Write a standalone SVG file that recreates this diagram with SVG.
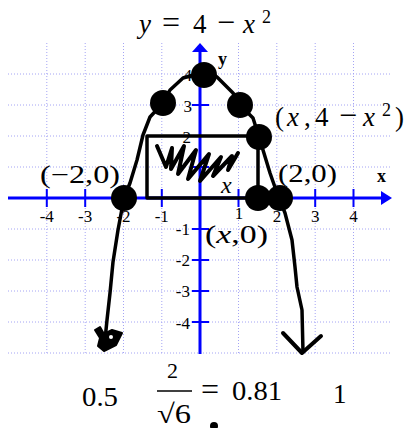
<svg xmlns="http://www.w3.org/2000/svg" width="407" height="428" viewBox="0 0 407 428">
<style>
.grid{stroke:#a4a4f4;stroke-width:1;stroke-dasharray:1 2;fill:none}
.axis{stroke:#0000ff;stroke-width:3;fill:none}
.tick{stroke:#0000ff;stroke-width:2}
.tl{font-family:"Liberation Serif",serif;font-size:17px;fill:#000}
.ink{stroke:#000;fill:none;stroke-linecap:round;stroke-linejoin:round}
.t{font-family:"Liberation Serif",serif;fill:#000}
.i{font-style:italic}
</style>
<rect width="407" height="428" fill="#fff"/>
<g id="grid">
<path class="grid" d="M46.8,43V354M85.2,43V354M123.5,43V354M161.8,43V354M238.5,43V354M276.8,43V354M315.2,43V354M353.5,43V354"/>
<path class="grid" d="M8,74H390M8,105H390M8,136H390M8,167H390M8,229H390M8,260H390M8,291H390M8,322H390M8,353H390"/>
</g>
<g id="axes">
<line class="axis" x1="8" y1="198" x2="384" y2="198"/>
<polygon points="392,198 381,191 381,205" fill="#0000ff"/>
<line class="axis" x1="200" y1="354" x2="200" y2="51"/>
<polygon points="200,43 192,52 208,52" fill="#0000ff"/>
<path class="tick" d="M46.8,189V207M85.2,189V207M123.5,189V207M161.8,189V207M238.5,189V207M276.8,189V207M315.2,189V207M353.5,189V207"/>
<path class="tick" d="M192,74H209M192,105H209M192,136H209M192,167H209M192,229H209M192,260H209M192,291H209M192,322H209"/>
<g class="tl" text-anchor="middle">
<text x="46.8" y="222">-4</text>
<text x="85.2" y="222">-3</text>
<text x="123.5" y="222">-2</text>
<text x="161.8" y="222">-1</text>
<text x="239" y="219">1</text>
<text x="277" y="222">2</text>
<text x="315.2" y="222">3</text>
<text x="353.5" y="222">4</text>
</g>
<g class="tl" text-anchor="end">
<text x="192" y="81">4</text>
<text x="192" y="112">3</text>
<text x="191" y="143">2</text>
<text x="190" y="235">-1</text>
<text x="190" y="266">-2</text>
<text x="190" y="297">-3</text>
<text x="190" y="329">-4</text>
</g>
<text class="t" x="377" y="182" font-size="18" font-weight="bold">x</text>
<text class="t" x="218" y="65" font-size="18" font-weight="bold">y</text>
</g>
<g id="rectangle">
<path class="ink" stroke-width="3.5" d="M147,136H258V198H147Z"/>
<path class="ink" stroke-width="4" d="M157,146L166,167L172,148L171,169L184,146L178,174L196,150L188,179L209,154L200,181L221,157L213,176L232,156L228,170L238,153"/>
</g>
<g id="curve">
<path class="ink" stroke-width="3.5" d="M105,340L107,320L110,293L113,262L118,230L124,198L130,183L137,160L143,135L150,117L163,103L170,90L183,78L204,72L217,77L233,93L240,105L253,118L259,137L263,150L270,173L277,193L285,213L292,240L295,267L297,287L302,310L303,352"/>
<path d="M95,330L100,327L104,334L112,330L122,333L116,345L104,351L98,346L100,338Z" fill="#000" stroke="#000" stroke-width="2" stroke-linejoin="round"/>
<circle cx="111" cy="337" r="2" fill="#fff"/>
<path class="ink" stroke-width="4" d="M283,333L302,353L321,336"/>
</g>
<g id="dots" fill="#000">
<circle cx="204" cy="75" r="13"/>
<circle cx="163" cy="103" r="13"/>
<circle cx="240" cy="105" r="13"/>
<circle cx="259" cy="137" r="13"/>
<circle cx="124" cy="198" r="13"/>
<circle cx="258" cy="198" r="13"/>
<circle cx="280" cy="198" r="13"/>
</g>
<g id="labels">
<text class="t" font-size="27" y="33"><tspan x="139" class="i">y</tspan><tspan x="162" font-size="32">=</tspan><tspan x="193">4</tspan><tspan x="217" font-size="32">−</tspan><tspan x="243" class="i">x</tspan><tspan x="262" y="23" font-size="18">2</tspan></text>
<text class="t" font-size="27" y="126"><tspan x="275">(</tspan><tspan x="287" class="i">x</tspan><tspan x="304">,</tspan><tspan x="315">4</tspan><tspan x="339" font-size="32">−</tspan><tspan x="363" class="i">x</tspan><tspan x="382" y="116" font-size="18">2</tspan><tspan x="395" y="126">)</tspan></text>
<text class="t" x="40" y="183" font-size="25" textLength="80" lengthAdjust="spacingAndGlyphs">(−2,0)</text>
<text class="t" x="278" y="182" font-size="25" textLength="59" lengthAdjust="spacingAndGlyphs">(2,0)</text>
<text class="t" x="205" y="243" font-size="26" textLength="63" lengthAdjust="spacingAndGlyphs">(<tspan class="i">x</tspan>,0)</text>
<text class="t i" x="221" y="193" font-size="24">x</text>
</g>
<g id="bottom">
<text class="t" x="82" y="406" font-size="27" textLength="36" lengthAdjust="spacingAndGlyphs">0.5</text>
<text class="t" x="167" y="378" font-size="22">2</text>
<line x1="157" y1="391" x2="192" y2="391" stroke="#000" stroke-width="1.6"/>
<text class="t" x="157" y="423" font-size="27" textLength="34" lengthAdjust="spacingAndGlyphs">√6</text>
<text class="t" x="201" y="400" font-size="32">=</text>
<text class="t" x="232" y="400" font-size="27" textLength="50" lengthAdjust="spacingAndGlyphs">0.81</text>
<text class="t" x="333" y="403" font-size="27">1</text>
<circle cx="214" cy="426" r="4" fill="#000"/>
</g>
</svg>
